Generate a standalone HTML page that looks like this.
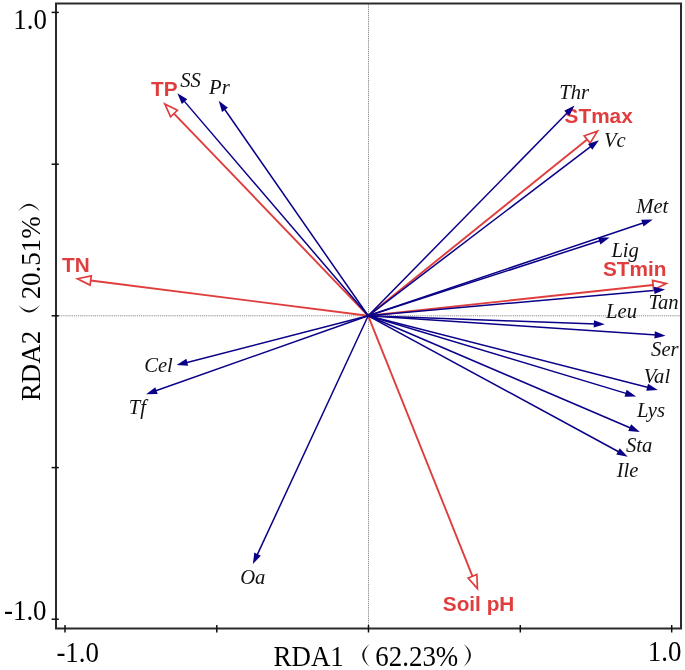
<!DOCTYPE html>
<html><head><meta charset="utf-8"><style>
html,body{margin:0;padding:0;background:#fff;width:685px;height:670px;overflow:hidden}
svg{display:block;filter:blur(0.3px)}
.ax{font-family:"Liberation Serif",serif;fill:#000}
.bl{font-family:"Liberation Serif",serif;font-style:italic;fill:#111}
.rl{font-family:"Liberation Sans",sans-serif;font-weight:bold;fill:#e03e3e}
</style></head><body>
<svg width="685" height="670" viewBox="0 0 685 670">
<line x1="57" y1="315.8" x2="680" y2="315.8" stroke="#888" stroke-width="1" stroke-dasharray="1.2,0.9"/>
<line x1="368.5" y1="4.5" x2="368.5" y2="627.5" stroke="#888" stroke-width="1" stroke-dasharray="1.2,0.9"/>
<text class="bl" font-size="19.93" transform="translate(180.3,86.6) scale(1.0352,1)">SS</text>
<text class="bl" font-size="19.93" transform="translate(209.1,94.3) scale(1.0352,1)">Pr</text>
<text class="bl" font-size="19.93" transform="translate(559.3,99.4) scale(1.0352,1)">Thr</text>
<text class="bl" font-size="19.93" transform="translate(603.9,147.3) scale(1.0352,1)">Vc</text>
<text class="bl" font-size="19.93" transform="translate(636.3,212.5) scale(1.0352,1)">Met</text>
<text class="bl" font-size="19.93" transform="translate(611.4,257.3) scale(1.0352,1)">Lig</text>
<text class="bl" font-size="19.93" transform="translate(648.4,308.9) scale(1.0352,1)">Tan</text>
<text class="bl" font-size="19.93" transform="translate(606.1,317.8) scale(1.0352,1)">Leu</text>
<text class="bl" font-size="19.93" transform="translate(651.12,355.6) scale(1.0352,1)">Ser</text>
<text class="bl" font-size="19.93" transform="translate(643.8,383) scale(1.0352,1)">Val</text>
<text class="bl" font-size="19.93" transform="translate(636.9,416.5) scale(1.0352,1)">Lys</text>
<text class="bl" font-size="19.93" transform="translate(626,451.9) scale(1.0352,1)">Sta</text>
<text class="bl" font-size="19.93" transform="translate(616.7,476.9) scale(1.0352,1)">Ile</text>
<text class="bl" font-size="19.93" transform="translate(144.2,371.7) scale(1.0352,1)">Cel</text>
<text class="bl" font-size="19.93" transform="translate(128.7,413.7) scale(1.0352,1)">Tf</text>
<text class="bl" font-size="19.93" transform="translate(240.2,583.5) scale(1.0352,1)">Oa</text>
<text class="rl" font-size="20.9" transform="translate(151.1,95.5) scale(0.9950,1)">TP</text>
<text class="rl" font-size="20.9" transform="translate(564.6,122.8) scale(0.9950,1)">STmax</text>
<text class="rl" font-size="20.9" transform="translate(62,271.9) scale(0.9950,1)">TN</text>
<text class="rl" font-size="20.9" transform="translate(602.9,276) scale(0.9950,1)">STmin</text>
<text class="rl" font-size="20.9" transform="translate(442.8,611.3) scale(0.9950,1)">Soil pH</text>
<line x1="368.2" y1="315.8" x2="174" y2="113.55" stroke="#e03e3e" stroke-width="1.9"/>
<line x1="368.2" y1="315.8" x2="587.15" y2="139.48" stroke="#e03e3e" stroke-width="1.9"/>
<line x1="368.2" y1="315.8" x2="90.68" y2="280.47" stroke="#e03e3e" stroke-width="1.9"/>
<line x1="368.2" y1="315.8" x2="653.09" y2="284.98" stroke="#e03e3e" stroke-width="1.9"/>
<line x1="368.2" y1="315.8" x2="472.5" y2="576.32" stroke="#e03e3e" stroke-width="1.9"/>
<line x1="368.2" y1="315.8" x2="183.13" y2="99.88" stroke="#0a0088" stroke-width="1.5"/>
<line x1="368.2" y1="315.8" x2="223.72" y2="108.02" stroke="#0a0088" stroke-width="1.5"/>
<line x1="368.2" y1="315.8" x2="568.34" y2="111.78" stroke="#0a0088" stroke-width="1.5"/>
<line x1="368.2" y1="315.8" x2="591.9" y2="145.63" stroke="#0a0088" stroke-width="1.5"/>
<line x1="368.2" y1="315.8" x2="644.46" y2="222.42" stroke="#0a0088" stroke-width="1.5"/>
<line x1="368.2" y1="315.8" x2="601.33" y2="240.31" stroke="#0a0088" stroke-width="1.5"/>
<line x1="368.2" y1="315.8" x2="656.33" y2="290.18" stroke="#0a0088" stroke-width="1.5"/>
<line x1="368.2" y1="315.8" x2="596.01" y2="323.98" stroke="#0a0088" stroke-width="1.5"/>
<line x1="368.2" y1="315.8" x2="656.82" y2="335.11" stroke="#0a0088" stroke-width="1.5"/>
<line x1="368.2" y1="315.8" x2="649.27" y2="387.72" stroke="#0a0088" stroke-width="1.5"/>
<line x1="368.2" y1="315.8" x2="627.67" y2="393.86" stroke="#0a0088" stroke-width="1.5"/>
<line x1="368.2" y1="315.8" x2="631.71" y2="428.54" stroke="#0a0088" stroke-width="1.5"/>
<line x1="368.2" y1="315.8" x2="619.97" y2="452.5" stroke="#0a0088" stroke-width="1.5"/>
<line x1="368.2" y1="315.8" x2="185.12" y2="362.91" stroke="#0a0088" stroke-width="1.5"/>
<line x1="368.2" y1="315.8" x2="154.4" y2="391.27" stroke="#0a0088" stroke-width="1.5"/>
<line x1="368.2" y1="315.8" x2="256.61" y2="556.12" stroke="#0a0088" stroke-width="1.5"/>
<polygon points="164.79,103.96 177.39,110.3 170.61,116.81" fill="#fff" stroke="#e03e3e" stroke-width="1.7" stroke-linejoin="miter"/>
<polygon points="597.51,131.14 590.1,143.14 584.2,135.82" fill="#fff" stroke="#e03e3e" stroke-width="1.7" stroke-linejoin="miter"/>
<polygon points="77.48,278.79 91.27,275.81 90.08,285.13" fill="#fff" stroke="#e03e3e" stroke-width="1.7" stroke-linejoin="miter"/>
<polygon points="666.31,283.55 653.6,289.65 652.58,280.31" fill="#fff" stroke="#e03e3e" stroke-width="1.7" stroke-linejoin="miter"/>
<polygon points="477.45,588.66 468.14,578.06 476.87,574.57" fill="#fff" stroke="#e03e3e" stroke-width="1.7" stroke-linejoin="miter"/>
<polygon points="177.4,93.2 187.29,99.21 181.83,103.89" fill="#0a0088"/>
<polygon points="218.7,100.8 227.94,107.78 222.02,111.89" fill="#0a0088"/>
<polygon points="574.5,105.5 569.37,115.87 564.23,110.83" fill="#0a0088"/>
<polygon points="598.9,140.3 592.32,149.83 587.97,144.09" fill="#0a0088"/>
<polygon points="652.8,219.6 643.53,226.53 641.23,219.71" fill="#0a0088"/>
<polygon points="609.7,237.6 600.34,244.41 598.13,237.56" fill="#0a0088"/>
<polygon points="665.1,289.4 654.46,293.96 653.82,286.79" fill="#0a0088"/>
<polygon points="604.8,324.3 593.68,327.5 593.94,320.31" fill="#0a0088"/>
<polygon points="665.6,335.7 654.38,338.56 654.86,331.37" fill="#0a0088"/>
<polygon points="657.8,389.9 646.25,390.66 648.04,383.69" fill="#0a0088"/>
<polygon points="636.1,396.4 624.53,396.68 626.6,389.78" fill="#0a0088"/>
<polygon points="639.8,432 628.27,430.98 631.1,424.36" fill="#0a0088"/>
<polygon points="627.7,456.7 616.32,454.61 619.75,448.29" fill="#0a0088"/>
<polygon points="176.6,365.1 186.36,358.87 188.15,365.85" fill="#0a0088"/>
<polygon points="146.1,394.2 155.27,387.14 157.67,393.93" fill="#0a0088"/>
<polygon points="252.9,564.1 254.27,552.61 260.8,555.64" fill="#0a0088"/>
<rect x="56" y="3.5" width="625" height="625" fill="none" stroke="#2a2a2a" stroke-width="2"/>
<line x1="51.6" y1="12.4" x2="58.8" y2="12.4" stroke="#111" stroke-width="1.5"/>
<line x1="51.6" y1="164.2" x2="58.8" y2="164.2" stroke="#111" stroke-width="1.5"/>
<line x1="51.6" y1="315.8" x2="58.8" y2="315.8" stroke="#111" stroke-width="1.5"/>
<line x1="51.6" y1="467.6" x2="58.8" y2="467.6" stroke="#111" stroke-width="1.5"/>
<line x1="51.6" y1="619.2" x2="58.8" y2="619.2" stroke="#111" stroke-width="1.5"/>
<line x1="65" y1="625" x2="65" y2="632.5" stroke="#111" stroke-width="1.5"/>
<line x1="216.8" y1="625" x2="216.8" y2="632.5" stroke="#111" stroke-width="1.5"/>
<line x1="368.5" y1="625" x2="368.5" y2="632.5" stroke="#111" stroke-width="1.5"/>
<line x1="520.3" y1="625" x2="520.3" y2="632.5" stroke="#111" stroke-width="1.5"/>
<line x1="671.7" y1="625" x2="671.7" y2="632.5" stroke="#111" stroke-width="1.5"/>
<text class="ax" font-size="28.98" transform="translate(13.3,29.2) scale(0.9279,1)">1.0</text>
<text class="ax" font-size="28.98" transform="translate(4,620.2) scale(0.9279,1)">-1.0</text>
<text class="ax" font-size="28.98" transform="translate(56.4,661.8) scale(0.9279,1)">-1.0</text>
<text class="ax" font-size="28.98" transform="translate(647.85,661.3) scale(0.9279,1)">1.0</text>
<text class="ax" font-size="28.98" transform="translate(273.62,666.3) scale(0.9279,1)">RDA1</text>
<text class="ax" font-size="28.98" transform="translate(375.35,666.3) scale(0.9279,1)">62.23%</text>
<path d="M369.6,644 Q354.8,655.35 369.6,666.7 Q358.8,655.35 369.6,644 Z" fill="#111"/>
<path d="M463.4,643.7 Q478.6,655.2 463.4,666.7 Q474.6,655.2 463.4,643.7 Z" fill="#111"/>
<g transform="translate(39.6,400.3) rotate(-90) scale(1,0.95) translate(-274.4,-666.3)">
<text class="ax" font-size="28.98" transform="translate(273.62,666.3) scale(0.9279,1)">RDA2</text>
<text class="ax" font-size="28.98" transform="translate(375.35,666.3) scale(0.9279,1)">20.51%</text>
<path d="M369.6,644 Q354.8,655.35 369.6,666.7 Q358.8,655.35 369.6,644 Z" fill="#111"/>
<path d="M463.4,643.7 Q478.6,655.2 463.4,666.7 Q474.6,655.2 463.4,643.7 Z" fill="#111"/>
</g>
</svg></body></html>
